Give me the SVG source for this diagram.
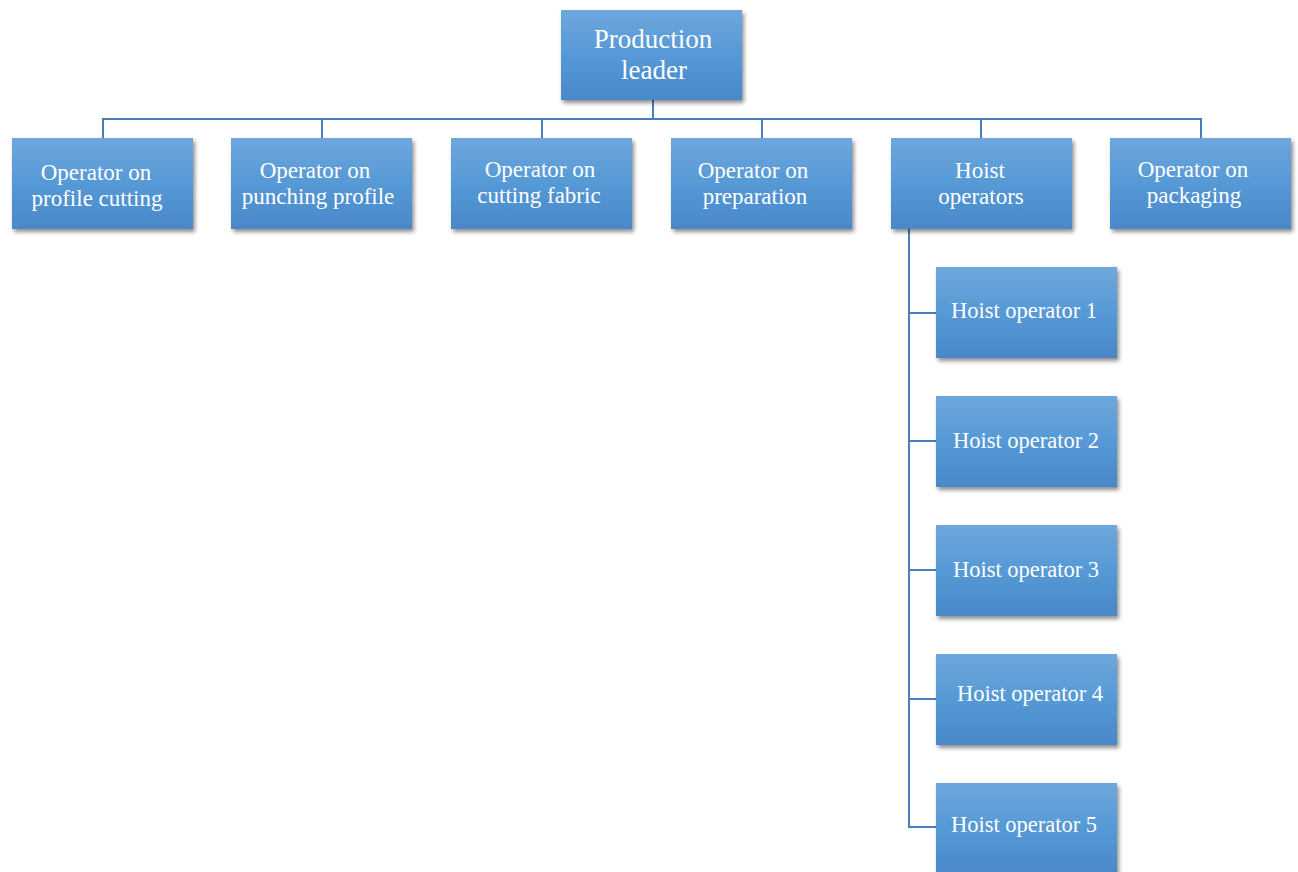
<svg xmlns="http://www.w3.org/2000/svg" width="1298" height="872" viewBox="0 0 1298 872">
<defs>
<linearGradient id="g" x1="0" y1="0" x2="0" y2="1">
<stop offset="0" stop-color="#6ea7dd"/>
<stop offset="0.5" stop-color="#5599d6"/>
<stop offset="1" stop-color="#4a88c9"/>
</linearGradient>
<filter id="sh" x="-10%" y="-10%" width="125%" height="130%">
<feGaussianBlur in="SourceAlpha" stdDeviation="2"/>
<feOffset dx="2" dy="3" result="b"/>
<feComponentTransfer><feFuncA type="linear" slope="0.45"/></feComponentTransfer>
<feMerge><feMergeNode/><feMergeNode in="SourceGraphic"/></feMerge>
</filter>
</defs>
<style>
.box{fill:url(#g);filter:url(#sh);}
.t{font-family:"Liberation Serif","Times New Roman",serif;fill:#ffffff;text-anchor:middle;}
.l2{font-size:23px;}
.l3{font-size:22.5px;}
.l1{font-size:27px;}
.c{fill:none;stroke:#4a7ebb;stroke-width:2;}
</style>
<rect width="1298" height="872" fill="#ffffff"/>
<g id="connectors">
<path class="c" d="M653 100 V119 M103 138 V119 H1201 V138 M322 119 V138 M542 119 V138 M762 119 V138 M981 119 V138"/>
<path class="c" d="M909 229 V827 H936 M909 313 H936 M909 441 H936 M909 570 H936 M909 699 H936"/>
</g>
<g id="production-leader">
<rect class="box" x="561" y="10" width="181" height="90"/>
<text class="t l1" x="653" y="48">Production</text>
<text class="t l1" x="654" y="79">leader</text>
</g>
<g id="op-profile-cutting">
<rect class="box" x="12" y="138" width="181" height="91"/>
<text class="t l2" x="96" y="180">Operator on</text>
<text class="t l2" x="97" y="206">profile cutting</text>
</g>
<g id="op-punching-profile">
<rect class="box" x="231" y="138" width="181" height="91"/>
<text class="t l2" x="315" y="178">Operator on</text>
<text class="t l2" x="318" y="204">punching profile</text>
</g>
<g id="op-cutting-fabric">
<rect class="box" x="451" y="138" width="181" height="91"/>
<text class="t l2" x="540" y="177">Operator on</text>
<text class="t l2" x="539" y="203">cutting fabric</text>
</g>
<g id="op-preparation">
<rect class="box" x="671" y="138" width="181" height="91"/>
<text class="t l2" x="753" y="178">Operator on</text>
<text class="t l2" x="755" y="204">preparation</text>
</g>
<g id="hoist-operators">
<rect class="box" x="891" y="138" width="181" height="91"/>
<text class="t l2" x="980" y="178">Hoist</text>
<text class="t l2" x="981" y="204">operators</text>
</g>
<g id="op-packaging">
<rect class="box" x="1110" y="138" width="181" height="91"/>
<text class="t l2" x="1193" y="177">Operator on</text>
<text class="t l2" x="1194" y="203">packaging</text>
</g>
<g id="hoist-1">
<rect class="box" x="936" y="267" width="181" height="91"/>
<text class="t l3" x="1024" y="318">Hoist operator 1</text>
</g>
<g id="hoist-2">
<rect class="box" x="936" y="396" width="181" height="91"/>
<text class="t l3" x="1026" y="448">Hoist operator 2</text>
</g>
<g id="hoist-3">
<rect class="box" x="936" y="525" width="181" height="91"/>
<text class="t l3" x="1026" y="577">Hoist operator 3</text>
</g>
<g id="hoist-4">
<rect class="box" x="936" y="654" width="181" height="91"/>
<text class="t l3" x="1030" y="701">Hoist operator 4</text>
</g>
<g id="hoist-5">
<rect class="box" x="936" y="783" width="181" height="91"/>
<text class="t l3" x="1024" y="832">Hoist operator 5</text>
</g>
</svg>
